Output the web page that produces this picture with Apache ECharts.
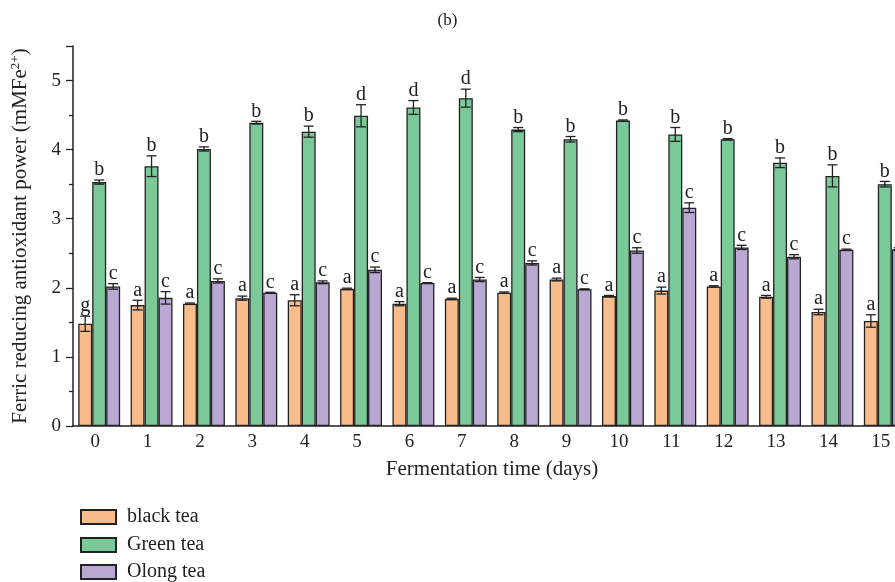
<!DOCTYPE html>
<html><head><meta charset="utf-8">
<script src="https://cdn.jsdelivr.net/npm/echarts@6/dist/echarts.min.js"></script>
<style>html,body{margin:0;padding:0;background:#fff}#c{width:895px;height:582px}</style>
</head><body><div id="c"></div>
<script>
const categories = ['0','1','2','3','4','5','6','7','8','9','10','11','12','13','14','15'];
const blackTea  = [1.48,1.75,1.77,1.85,1.82,1.985,1.77,1.84,1.93,2.12,1.88,1.96,2.02,1.87,1.65,1.52];
const blackErr  = [0.11,0.07,0.01,0.03,0.08,0.01,0.03,0.01,0.01,0.02,0.01,0.05,0.01,0.02,0.04,0.09];
const greenTea  = [3.53,3.76,4.01,4.39,4.26,4.49,4.61,4.745,4.29,4.15,4.42,4.22,4.15,3.81,3.62,3.50];
const greenErr  = [0.03,0.15,0.03,0.02,0.08,0.16,0.10,0.13,0.03,0.04,0.01,0.10,0.01,0.07,0.16,0.04];
const oolongTea = [2.02,1.855,2.10,1.93,2.08,2.26,2.07,2.12,2.36,1.98,2.54,3.16,2.585,2.45,2.55,2.56];
const oolongErr = [0.04,0.09,0.03,0.005,0.02,0.04,0.005,0.03,0.03,0.005,0.04,0.07,0.03,0.03,0.01,0.02];
const blackLetters  = ['g','a','a','a','a','a','a','a','a','a','a','a','a','a','a','a'];
const greenLetters  = ['b','b','b','b','b','d','d','d','b','b','b','b','b','b','b','b'];
const oolongLetters = ['c','c','c','c','c','c','c','c','c','c','c','c','c','c','c','c'];
const seriesNames = ['black tea','Green tea','Olong tea'];
const colors = ['#F9BC8B','#7BC998','#B9A8D1'];

const FONT = '"Liberation Serif", "DejaVu Serif", serif';
const GAP = 0.2;

function errSeries(vals, errs, letters, idx) {
  return {
    type: 'custom',
    z: 5,
    silent: true,
    data: vals.map((v, i) => [i, v, errs[i]]),
    encode: {x: 0, y: 1},
    renderItem: function (params, api) {
      const i = api.value(0), v = api.value(1), e = api.value(2);
      const band = api.size([1, 0])[0];
      const bw = band * (1 - GAP) / 3;
      const cx = api.coord([i, v])[0] + (idx - 1) * bw;
      const yT = api.coord([i, v + e])[1];
      const yB = api.coord([i, v - e])[1];
      const cap = 5;
      const st = {stroke: '#222', lineWidth: 1.3};
      return {
        type: 'group',
        children: [
          {type: 'line', shape: {x1: cx, y1: yT, x2: cx, y2: yB}, style: st},
          {type: 'line', shape: {x1: cx - cap, y1: yT, x2: cx + cap, y2: yT}, style: st},
          {type: 'line', shape: {x1: cx - cap, y1: yB, x2: cx + cap, y2: yB}, style: st},
          {type: 'text', x: cx, y: yT, style: {text: letters[i], fill: '#222', font: '20px ' + FONT, textAlign: 'center', textVerticalAlign: 'bottom'}}
        ]
      };
    }
  };
}

const chart = echarts.init(document.getElementById('c'));
const barBase = (name, data, idx) => ({
  name: name, type: 'bar', data: data,
  barGap: '0%', barCategoryGap: (GAP * 100) + '%',
  itemStyle: {color: colors[idx], borderColor: '#222', borderWidth: 1.3}
});
const legendTops = [507, 535, 562];
const legends = seriesNames.map((n, k) => ({
  orient: 'vertical', left: 80, top: legendTops[k], padding: 0, itemWidth: 35, itemHeight: 14,
  icon: 'rect', data: [n],
  textStyle: {fontFamily: FONT, fontSize: 20, lineHeight: 20, color: '#222', padding: [0, 0, 0, 6]}
}));

chart.setOption({
  animation: false,
  backgroundColor: '#fff',
  textStyle: {fontFamily: FONT},
  title: {text: '(b)', left: 'center', top: 7, textStyle: {fontFamily: FONT, fontSize: 17, fontWeight: 'normal', color: '#222'}},
  legend: legends,
  grid: {left: 73, right: -16, top: 46, bottom: 156, containLabel: false, outerBoundsMode: 'none'},
  xAxis: {
    type: 'category', data: categories,
    name: 'Fermentation time (days)', nameLocation: 'middle', nameGap: 33,
    nameTextStyle: {fontFamily: FONT, fontSize: 21, color: '#222'},
    axisLine: {lineStyle: {color: '#222', width: 1.5}},
    axisTick: {show: false},
    axisLabel: {fontFamily: FONT, fontSize: 19, color: '#222', margin: 7, padding: [0, 8, 0, 0]}
  },
  yAxis: {
    type: 'value', min: 0, max: 5.5, interval: 1,
    name: 'Ferric reducing antioxidant power (mMFe{sup|2+})',
    nameLocation: 'middle', nameGap: 41, nameRotate: 90,
    nameTextStyle: {fontFamily: FONT, fontSize: 21, color: '#222',
      rich: {sup: {fontFamily: FONT, fontSize: 13, color: '#222', verticalAlign: 'bottom', padding: [0, 0, 10, 0]}}},
    axisLine: {show: true, lineStyle: {color: '#222', width: 1.5}},
    axisTick: {show: true, length: 7, lineStyle: {color: '#222', width: 1.3}},
    minorTick: {show: true, splitNumber: 2, length: 4, lineStyle: {color: '#222', width: 1.3}},
    splitLine: {show: false},
    axisLabel: {fontFamily: FONT, fontSize: 19, color: '#222', margin: 12, showMaxLabel: false}
  },
  series: [
    barBase(seriesNames[0], blackTea, 0),
    barBase(seriesNames[1], greenTea, 1),
    barBase(seriesNames[2], oolongTea, 2),
    errSeries(blackTea, blackErr, blackLetters, 0),
    errSeries(greenTea, greenErr, greenLetters, 1),
    errSeries(oolongTea, oolongErr, oolongLetters, 2)
  ]
});
</script></body></html>
